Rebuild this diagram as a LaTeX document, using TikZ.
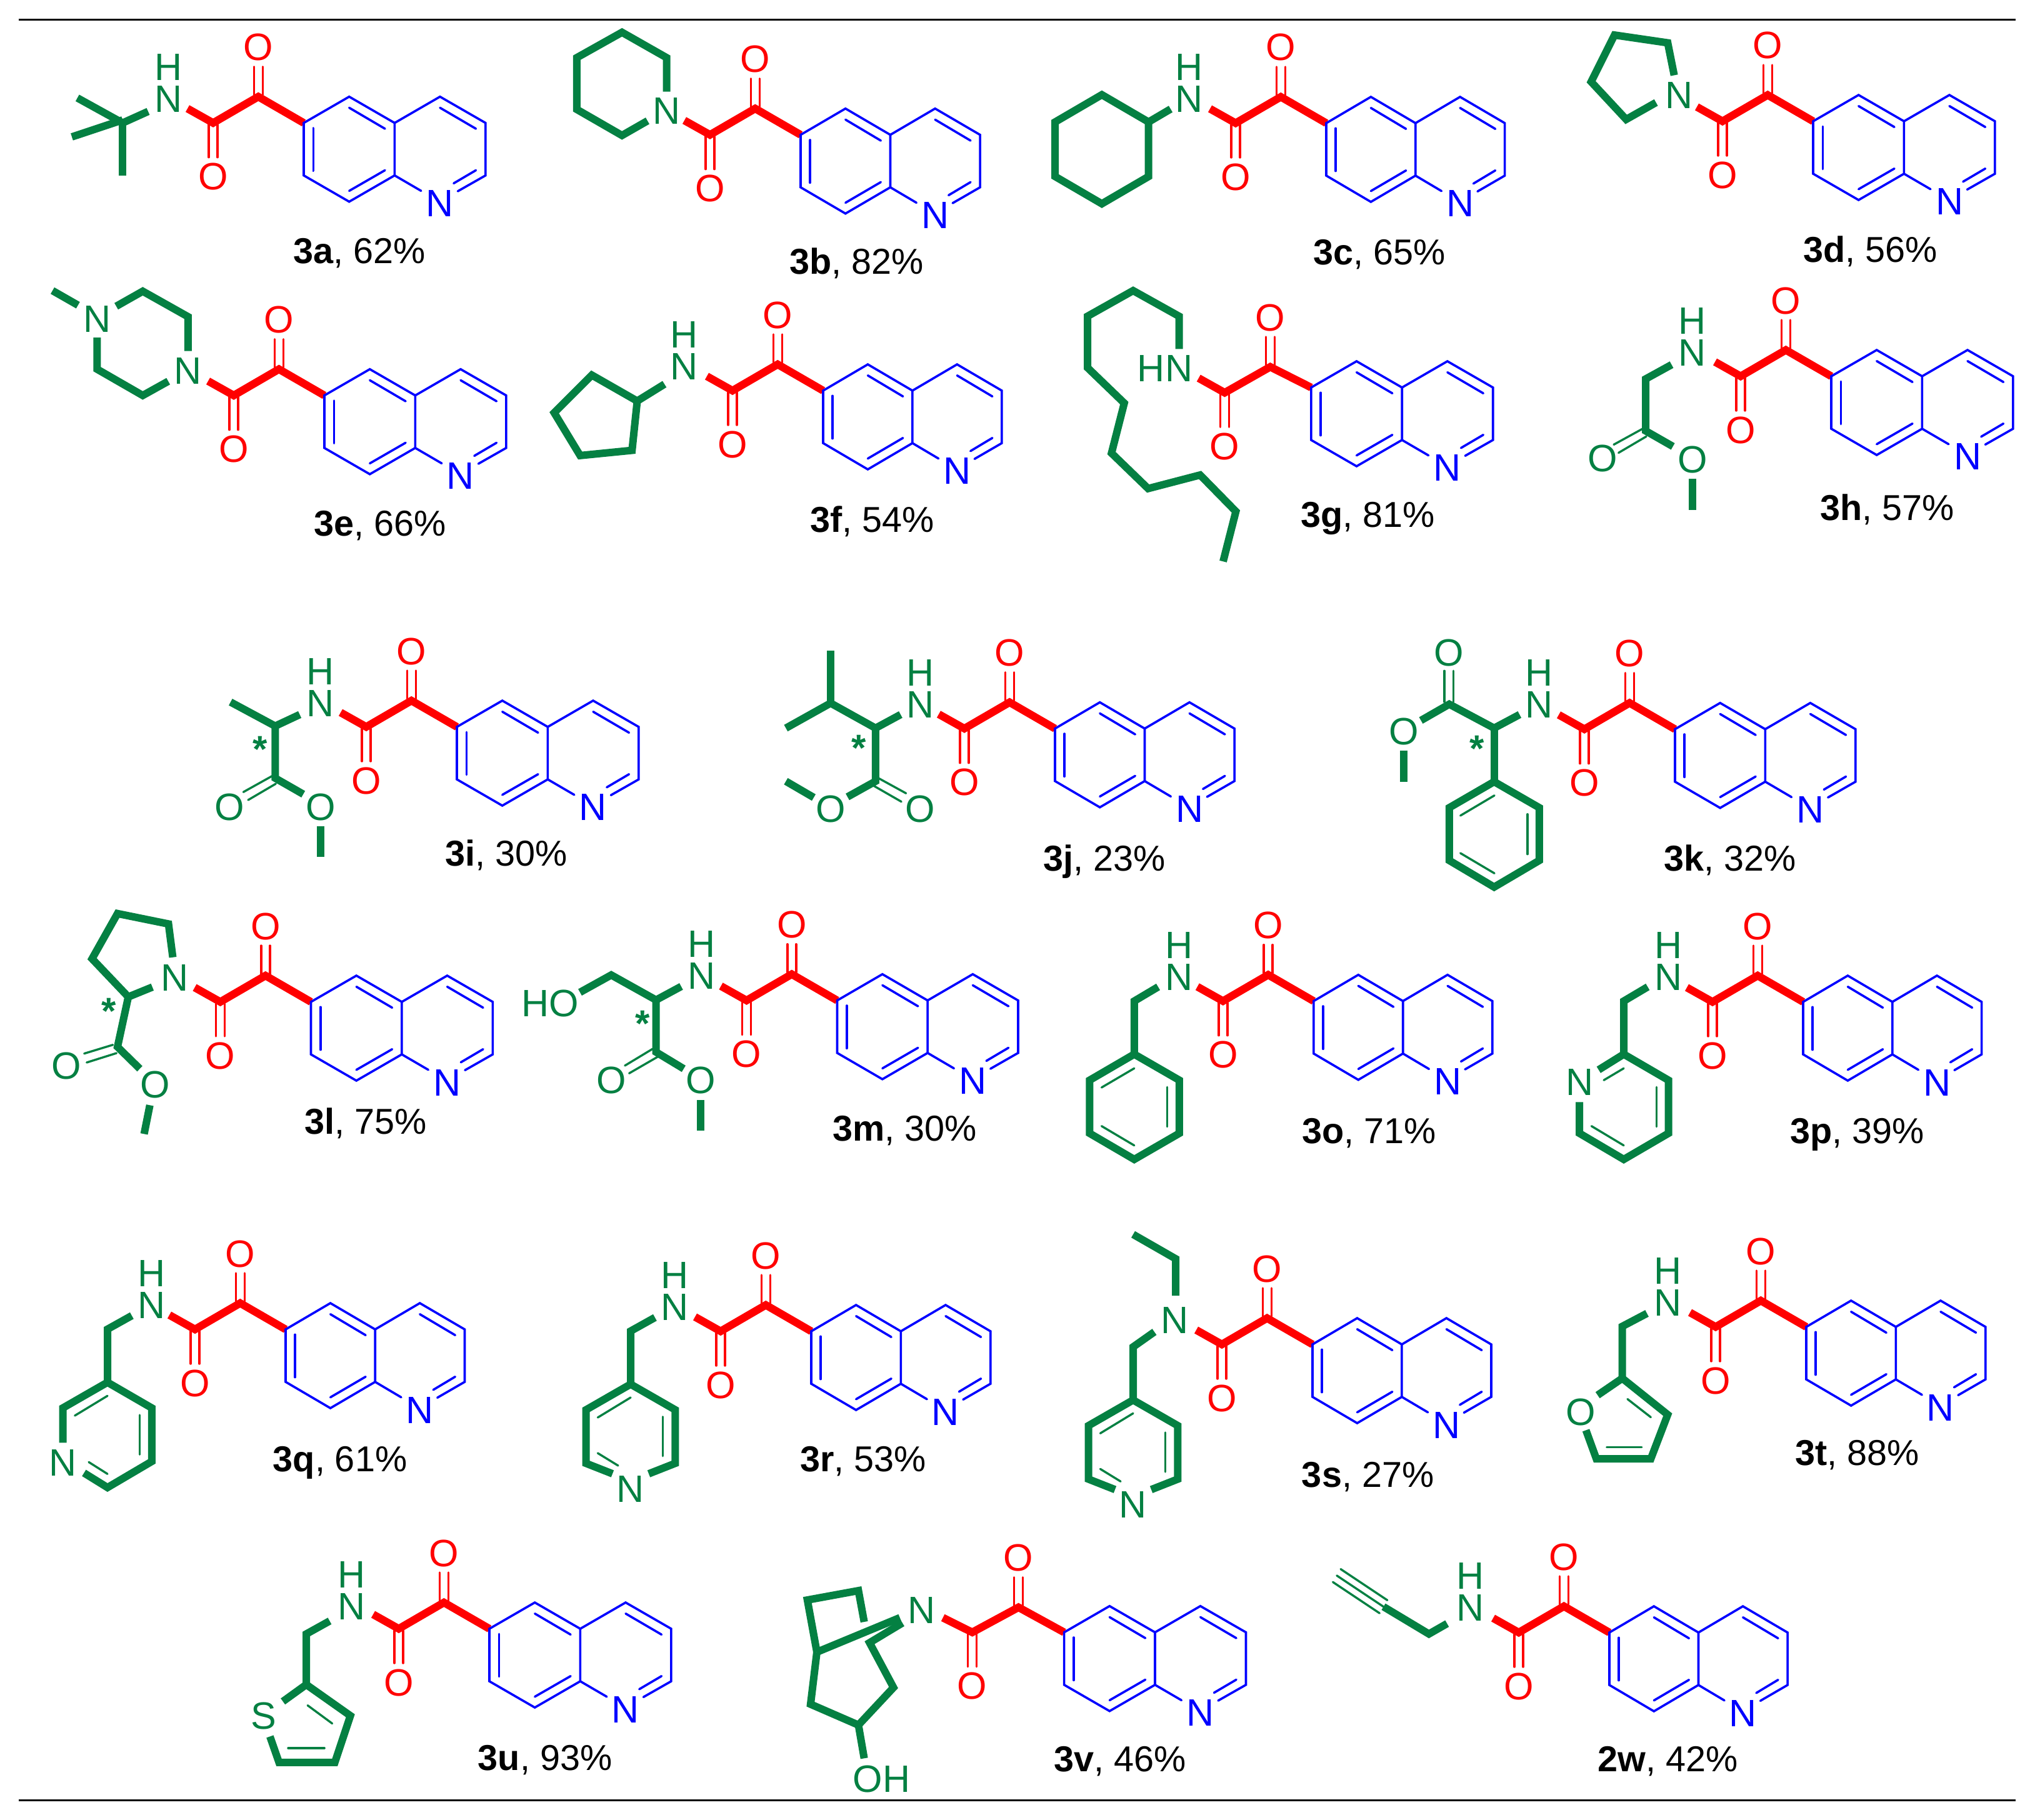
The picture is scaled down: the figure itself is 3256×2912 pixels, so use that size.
\documentclass[tikz,border=0pt]{standalone}
\usepackage{fontspec}
\setmainfont{Liberation Sans}
\definecolor{gr}{RGB}{4,128,66}
\tikzset{
  gthick/.style={draw=gr,line width=3pt,line join=miter,line cap=butt},
  gthin/.style={draw=gr,line width=0.85pt,line cap=round},
  rthick/.style={draw=red,line width=3.1pt,line join=miter,line cap=butt},
  rthin/.style={draw=red,line width=0.85pt,line cap=round},
  bline/.style={draw=blue,line width=0.9pt,line join=miter,line cap=round},
  atomtxt/.style={inner sep=0pt,outer sep=0pt,font=\fontsize{15.25}{15.25}\selectfont},
  gatom/.style={atomtxt,text=gr},
  nhatom/.style={inner sep=0pt,outer sep=0pt,text=gr,align=center,font=\fontsize{15.25}{12.75}\selectfont},
  ratom/.style={atomtxt,text=red},
  batom/.style={atomtxt,text=blue},
  gstar/.style={inner sep=0pt,text=gr,font=\fontsize{15}{15}\selectfont\bfseries,yshift=-3.1pt},
  labtxt/.style={inner sep=0pt,anchor=base,text=black,font=\fontsize{14.4}{14.4}\selectfont},
  rulebar/.style={draw=black,line width=0.85pt},
  sh/.style={scale=2.0765}
}
\def\qsx{1}
% name, C6 x, C6 y, keto dx, dy, amide dx, dy, N-end dx, dy
\newcommand{\qcoregen}[9]{%
\begin{scope}[shift={(#2,#3)}]
  \coordinate (#1c6) at (0,0);
  \coordinate (#1k) at (#4,#5);
  \coordinate (#1a) at (#6,#7);
  \coordinate (#1e) at (#8,#9);
  \draw[rthick] (#1e) -- (#1a) -- (#1k) -- (#1c6);
  \node[ratom] (#1kO) at (#4,{#5-79}) {O};
  \node[ratom] (#1aO) at (#6,{#7+86}) {O};
  \draw[rthin] ({#4-7},{#5-48}) -- ({#4-7},{#5-3});
  \draw[rthin] ({#4+7},{#5-48}) -- ({#4+7},{#5-3});
  \draw[rthin] ({#6-7},{#7+3}) -- ({#6-7},{#7+55});
  \draw[rthin] ({#6+7},{#7+3}) -- ({#6+7},{#7+55});
  \begin{scope}[xscale=\qsx]
  \coordinate (#1c5) at (72.7,-42);
  \coordinate (#1c4a) at (145.4,0);
  \coordinate (#1c8a) at (145.4,84);
  \coordinate (#1c8) at (72.7,126);
  \coordinate (#1c7) at (0,84);
  \coordinate (#1c4) at (218,-42);
  \coordinate (#1c3) at (290.9,0);
  \coordinate (#1c2) at (290.9,84);
  \node[batom] (#1qN) at (218,129) {N};
  \draw[bline] (#1c6) -- (#1c5) -- (#1c4a) -- (#1c8a) -- (#1c8) -- (#1c7) -- cycle;
  \draw[bline] (#1c4a) -- (#1c4) -- (#1c3) -- (#1c2) -- (246.4,109.3);
  \draw[bline] (#1c8a) -- (187.8,108.7);
  \draw[bline] (15.3,8.3) -- (15.3,76.6);
  \draw[bline] (72.7,-24.3) -- (130,9.3);
  \draw[bline] (72.7,108.7) -- (130,75.7);
  \draw[bline] (218,-24.3) -- (275.5,9.3);
  \draw[bline] (275.5,75.7) -- (239.8,96.7);
  \end{scope}
\end{scope}}
\newcommand{\qcore}[4][1]{\def\qsx{#1}\qcoregen{#2}{#3}{#4}{-72.7}{-42}{-145}{0}{-186}{-23}\def\qsx{1}}
% name, bold part, percent, shown x, shown y
\newcommand{\lab}[4]{\node[labtxt] (lab#1) at ({#3*2.0765},{(#4+10)*2.0765}) {\textbf{#1}, #2\%};}
% H above N: name, x, y of N
\newcommand{\nhgroup}[3]{\node[nhatom] (#1NH) at (#2,{#3-25.5}) {H\\N};}
% 4-pyridyl ring, top vertex at origin
\newcommand{\pyrfour}[3]{%
\begin{scope}[shift={(#2,#3)}]
  \draw[gthick] (-29,143.3) -- (-71.4,126.6) -- (-71.4,41) -- (0,0) -- (71.4,41) -- (71.4,126.6) -- (29,143.3);
  \node[gatom] (#1pN) at (0,167.3) {N};
  \draw[gthin] (0,21.3) -- (-52.6,53.3);
  \draw[gthin] (-52.6,110.3) -- (-20,130.3);
  \draw[gthin] (51.7,52) -- (51.7,115);
\end{scope}}
\begin{document}
\begin{tikzpicture}[x=0.25pt,y=-0.25pt]
\useasboundingbox (0,0) rectangle (3256,2912);
\coordinate (tl) at (30,31.7); \coordinate (tr) at (3225,31.7);
\coordinate (bl) at (30,2880.7); \coordinate (br) at (3225,2880.7);
\draw[rulebar] (tl) -- (tr);
\draw[rulebar] (bl) -- (br);

% 3a
\qcore{a}{486}{196.7}
\nhgroup{a}{269.2}{158.3}
\draw[gthick] (237,178.3) -- (196.2,196.7) -- (123.8,156.7);
\draw[gthick] (115,219) -- (196.2,192);
\draw[gthick] (196.2,192) -- (196.2,280.7);
\lab{3a}{62}{277}{193}

% 3b
\qcore[.987]{b}{1281}{215.7}
\node[gatom] (bN) at (1066.6,177.3) {N};
\draw[gthick] (1066.6,146.7) -- (1066.6,92.3) -- (995.2,51.7) -- (922.8,92.3) -- (922.8,175) -- (995.2,216.7) -- (1036,193.3);
\lab{3b}{82}{660}{201}

% 3c
\qcore[.982]{c}{2122}{197}
\nhgroup{c}{1903}{158.6}
\begin{scope}[sh]
\draw[gthick] (885,94) -- (885,136) -- (849,157) -- (813,136) -- (813,94) -- (849,73) -- cycle;
\draw[gthick] (885,94) -- (902,84);
\end{scope}
\lab{3c}{65}{1063}{194}

% 3d
\qcore{d}{2901}{194}
\node[gatom] (dN) at (2686.6,152.6) {N};
\begin{scope}[sh]
\draw[gthick] (1290,58) -- (1285,33) -- (1244,27) -- (1226,63) -- (1253,92) -- (1276,79);
\end{scope}
\lab{3d}{56}{1441}{192}

% 3e
\qcore{e}{519}{632.7}
\node[gatom] (eN1) at (155.4,510.7) {N};
\node[gatom] (eN2) at (300.8,594) {N};
\draw[gthick] (84,465) -- (124.8,488.3);
\draw[gthick] (186,490) -- (228.4,466) -- (300.8,506.7) -- (300.8,561.7);
\draw[gthick] (155.4,540) -- (155.4,590.7) -- (228.4,632.7) -- (269.2,610);
\lab{3e}{66}{293}{403}

% 3f
\qcore[.983]{f}{1317}{625}
\nhgroup{f}{1095}{586.6}
\begin{scope}[sh]
\draw[gthick] (491,309) -- (487,347) -- (447,351) -- (427,318) -- (456,289) -- cycle;
\draw[gthick] (491,309) -- (512,296);
\end{scope}
\lab{3f}{54}{672}{400}

% 3g
\qcoregen{g}{2097.8}{620}{-65.4}{-33}{-138.3}{8.3}{-180}{-15}
\node[gatom] (gHN) at (1864,590) {HN};
\draw[gthick] (1886.5,558.3) -- (1886.5,506) -- (1813,465) -- (1740,506) -- (1740,588.3) -- (1798.8,645) -- (1778.4,725) -- (1837,781.7) -- (1920.2,760) -- (1977.4,818.3) -- (1957,898.3);
\lab{3g}{81}{1054}{396}

% 3h
\qcore{h}{2930}{602}
\nhgroup{h}{2707.8}{564.8}
\begin{scope}[sh]
\draw[gthick] (1288,281) -- (1268,292) -- (1268,332) -- (1289,344);
\draw[gthin] (1265.6,330.4) -- (1243.4,342.6);
\draw[gthin] (1268.5,336.3) -- (1247.1,348.9);
\node[gatom] (hO1) at (1235,353) {O};
\node[gatom] (hO2) at (1304,354) {O};
\draw[gthick] (1304,369) -- (1304,393);
\end{scope}
\lab{3h}{57}{1454}{391}

% 3i
\qcore{i}{731}{1163}
\nhgroup{i}{512.2}{1125.7}
\draw[gthick] (368.9,1123.3) -- (440.3,1161.7) -- (479.6,1143.3);
\draw[gthick] (440.3,1161.7) -- (440.3,1245) -- (485.2,1270.7);
\draw[gthin] (435.2,1241.7) -- (389.3,1267.3);
\draw[gthin] (441.3,1254) -- (397,1280);
\node[gatom] (iO1) at (367.3,1291) {O};
\node[gatom] (iO2) at (512.8,1291) {O};
\draw[gthick] (512.8,1321.7) -- (512.8,1370.7);
\node[gstar] (iS) at (416.3,1186) {*};
\lab{3i}{30}{390}{657}

% 3j
\qcore[.987]{j}{1688}{1165.7}
\nhgroup{j}{1472.7}{1127.3}
\draw[gthick] (1257.4,1165) -- (1329,1125) -- (1400.9,1165) -- (1441,1143.3);
\draw[gthick] (1329,1041) -- (1329,1125);
\draw[gthick] (1400.9,1165) -- (1400.9,1250) -- (1356,1275);
\draw[gthick] (1302,1276) -- (1257.4,1250);
\draw[gthin] (1405.5,1245) -- (1449.7,1269.3);
\draw[gthin] (1398,1257.3) -- (1442.2,1282.7);
\node[gatom] (jO1) at (1329,1294) {O};
\node[gatom] (jO2) at (1472.7,1294) {O};
\node[gstar] (jS) at (1374,1184) {*};
\lab{3j}{23}{851}{661}

% 3k
\qcore[.993]{k}{2680}{1166.7}
\nhgroup{k}{2462.9}{1127.7}
\node[gatom] (kO1) at (2317.7,1044) {O};
\draw[gthin] (2310.8,1073.3) -- (2310.8,1123);
\draw[gthin] (2325.7,1073.3) -- (2325.7,1123);
\draw[gthick] (2273.5,1152.7) -- (2318.8,1126.7) -- (2390.6,1165) -- (2431.3,1143.3);
\node[gatom] (kO2) at (2246,1170) {O};
\draw[gthick] (2246,1200.7) -- (2246,1250.7);
\draw[gthick] (2390.6,1165) -- (2390.6,1250.7);
\draw[gthick] (2390.6,1250.7) -- (2318.8,1292.3) -- (2318.8,1376.7) -- (2390.6,1419.3) -- (2462.9,1376.7) -- (2462.9,1292.3) -- cycle;
\draw[gthin] (2391.1,1272.7) -- (2336.6,1305);
\draw[gthin] (2444,1302.7) -- (2444,1366.7);
\draw[gthin] (2391.1,1397.3) -- (2336.6,1365);
\node[gstar] (kS) at (2363.6,1185) {*};
\lab{3k}{32}{1333}{661}

% 3l
\qcore{l}{497.5}{1603}
\node[gatom] (lN) at (279.4,1564) {N};
\draw[gthick] (276.5,1531.7) -- (269.6,1478.3) -- (188,1461.7) -- (147.3,1534) -- (205.3,1595) -- (243.8,1579.3);
\draw[gthick] (205.3,1595) -- (188,1675) -- (223.7,1710);
\draw[gthin] (180.6,1671.7) -- (134.7,1685.7);
\draw[gthin] (186.4,1685) -- (138.7,1700);
\node[gatom] (lO1) at (106,1705) {O};
\node[gatom] (lO2) at (247.8,1735) {O};
\draw[gthick] (239.8,1768.3) -- (230.6,1814.3);
\node[gstar] (lS) at (173.7,1605.7) {*};
\lab{3l}{75}{282}{864}

% 3m
\qcore[.995]{m}{1339.5}{1600.7}
\node[gatom] (mHO) at (880.4,1605.7) {HO};
\nhgroup{m}{1122.6}{1561.7}
\draw[gthick] (928,1587.7) -- (978,1560) -- (1049.7,1600) -- (1089.9,1578.3);
\draw[gthick] (1049.7,1600) -- (1049.7,1683.3) -- (1093.9,1710);
\draw[gthin] (1044,1678.3) -- (999.8,1705);
\draw[gthin] (1052.6,1690.7) -- (1006.6,1717.3);
\node[gatom] (mO1) at (978,1728.3) {O};
\node[gatom] (mO2) at (1121.4,1728.3) {O};
\draw[gthick] (1121.4,1760) -- (1121.4,1809);
\node[gstar] (mS) at (1028.5,1625) {*};
\lab{3m}{30}{697}{869}

% 3o
\qcore[.983]{o}{2101.8}{1601.7}
\nhgroup{o}{1886.9}{1563.3}
\draw[gthick] (1853,1579) -- (1814.8,1601.7) -- (1814.8,1686.7);
\draw[gthick] (1814.8,1686.7) -- (1743.4,1728.3) -- (1743.4,1813.3) -- (1814.8,1855) -- (1886.9,1813.3) -- (1886.9,1728.3) -- cycle;
\draw[gthin] (1814.8,1709.3) -- (1762.5,1740);
\draw[gthin] (1867.7,1739.3) -- (1867.7,1802.7);
\draw[gthin] (1814.8,1832.7) -- (1762.5,1801.7);
\lab{3o}{71}{1055}{871}

% 3p
\qcore[.982]{p}{2885}{1603}
\nhgroup{p}{2669.5}{1563.3}
\draw[gthick] (2636.3,1579) -- (2598,1601.7) -- (2598,1686.7);
\draw[gthick] (2557.8,1711.7) -- (2598,1686.7) -- (2669.5,1728.3) -- (2669.5,1813.3) -- (2598,1855) -- (2527.2,1813.3) -- (2527.2,1763.3);
\node[gatom] (pRN) at (2527.2,1731.7) {N};
\draw[gthin] (2598,1709.3) -- (2566,1728.3);
\draw[gthin] (2650.3,1739.3) -- (2650.3,1802.7);
\draw[gthin] (2598,1832.7) -- (2546.3,1801.7);
\lab{3p}{39}{1431}{871}

% 3q
\qcore[.985]{q}{457}{2127}
\nhgroup{q}{242.8}{2088.3}
\draw[gthick] (210.9,2105) -- (172,2126.7) -- (172,2211.7);
\draw[gthick] (100.6,2308.3) -- (100.6,2252.7) -- (172,2211.7) -- (242.8,2252.7) -- (242.8,2338.3) -- (172,2380) -- (134.4,2356.7);
\node[gatom] (qRN) at (100.6,2340) {N};
\draw[gthin] (172,2233.3) -- (119.7,2265);
\draw[gthin] (223.7,2264) -- (223.7,2327.3);
\draw[gthin] (172,2358.3) -- (142,2339.3);
\lab{3q}{61}{262}{1124}

% 3r
\qcore[.986]{r}{1298}{2130}
\nhgroup{r}{1079.8}{2091.3}
\draw[gthick] (1047.9,2108) -- (1009,2129.7) -- (1009,2214.7);
\pyrfour{r}{1009}{2214.7}
\lab{3r}{53}{665}{1124}

% 3s
\qcore[.983]{s}{2100}{2151}
\node[gatom] (sN) at (1880,2112) {N};
\draw[gthick] (1881,2073) -- (1881,2014) -- (1813,1975);
\draw[gthick] (1847,2131) -- (1813,2155) -- (1813,2240);
\pyrfour{s}{1813}{2240}
\lab{3s}{27}{1054}{1136}

% 3t
\qcore[.986]{t}{2890}{2123}
\nhgroup{t}{2668.3}{2084.8}
\begin{scope}[sh]
\draw[gthick] (1269,1012) -- (1250,1022) -- (1250,1062);
\draw[gthick] (1231,1075) -- (1250,1062) -- (1285,1090) -- (1272,1124) -- (1230,1124) -- (1222,1102);
\node[gatom] (tO) at (1218,1088) {O};
\draw[gthin] (1254,1078) -- (1272,1092);
\draw[gthin] (1265,1115) -- (1238,1115);
\end{scope}
\lab{3t}{88}{1431}{1119}

% 3u
\qcore{u}{783}{2606}
\nhgroup{u}{562.7}{2570.7}
\begin{scope}[sh]
\draw[gthick] (254,1249) -- (236,1259) -- (236,1298);
\draw[gthick] (218,1311) -- (236,1298) -- (270,1322) -- (258,1358) -- (215,1358) -- (208,1338);
\node[gatom] (uS) at (203,1322) {S};
\draw[gthin] (237,1314) -- (256,1328);
\draw[gthin] (250,1347) -- (222,1347);
\end{scope}
\lab{3u}{93}{420}{1354}

% 3v
\qcoregen{v}{1702.6}{2611.7}{-73}{-40}{-147}{0}{-194}{-23.4}
\node[gatom] (vN) at (1474.5,2576) {N};
\draw[gthick] (1382.7,2595) -- (1373.5,2545) -- (1291.8,2560) -- (1307,2643.3);
\draw[gthick] (1307,2643.3) -- (1439.8,2588.3);
\draw[gthick] (1443.9,2596.7) -- (1391.3,2628.3) -- (1429.6,2700) -- (1373.5,2760) -- (1296.9,2726.7) -- (1307,2643.3);
\draw[gthick] (1373.5,2760) -- (1382.7,2813.3);
\node[gatom] (vOH) at (1410.7,2846) {OH};
\lab{3v}{46}{863}{1355}

% 2w
\qcore[.98]{w}{2575}{2612}
\nhgroup{w}{2352.7}{2572.8}
\begin{scope}[sh]
\draw[gthick] (1115,1251) -- (1101,1259) -- (1066,1238);
\draw[gthin] (1066,1238) -- (1030,1214);
\draw[gthin] (1069,1233) -- (1033,1209);
\draw[gthin] (1063,1243) -- (1027,1219);
\end{scope}
\lab{2w}{42}{1285}{1355}
\end{tikzpicture}
\end{document}
